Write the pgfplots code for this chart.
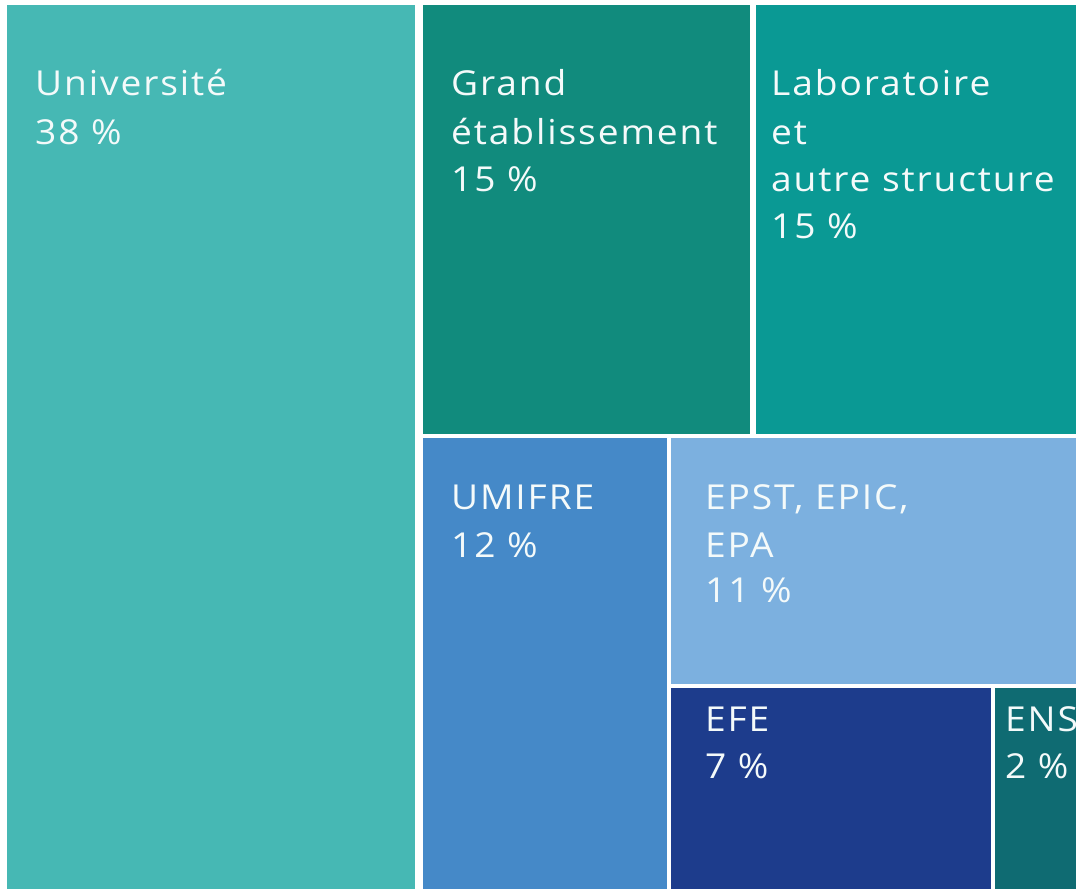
\documentclass[border=0pt]{standalone}
\usepackage{pgfplots}
\pgfplotsset{compat=1.18}
\usepackage{fontspec}
\setmainfont{Open Sans}[FakeStretch=1.08,LetterSpace=5.5]
\definecolor{cUniv}{HTML}{46B8B4}
\definecolor{cGrand}{HTML}{118B7D}
\definecolor{cLab}{HTML}{0A9994}
\definecolor{cUmi}{HTML}{4589C8}
\definecolor{cEpst}{HTML}{7CB0DF}
\definecolor{cEfe}{HTML}{1D3C8C}
\definecolor{cEns}{HTML}{0F6B72}
\definecolor{cTxt}{HTML}{F4FAFA}
\tikzset{lbl/.style={anchor=base west,text=cTxt,inner sep=0pt,font=\fontsize{34.5}{44}\selectfont}}
\begin{document}
\begin{tikzpicture}
\begin{axis}[width=1076bp,height=889bp,scale only axis,
  xmin=0,xmax=1076,ymin=0,ymax=889,y dir=reverse,hide axis]
% Université 38 %
\addplot[fill=cUniv,draw=none] coordinates {(7,5)(415,5)(415,889)(7,889)} -- cycle;
% Grand établissement 15 %
\addplot[fill=cGrand,draw=none] coordinates {(423,5)(750,5)(750,434)(423,434)} -- cycle;
% Laboratoire et autre structure 15 %
\addplot[fill=cLab,draw=none] coordinates {(756,5)(1076,5)(1076,434)(756,434)} -- cycle;
% UMIFRE 12 %
\addplot[fill=cUmi,draw=none] coordinates {(423,438)(667,438)(667,889)(423,889)} -- cycle;
% EPST, EPIC, EPA 11 %
\addplot[fill=cEpst,draw=none] coordinates {(671,438)(1076,438)(1076,684)(671,684)} -- cycle;
% EFE 7 %
\addplot[fill=cEfe,draw=none] coordinates {(671,688)(991,688)(991,889)(671,889)} -- cycle;
% ENS 2 %
\addplot[fill=cEns,draw=none] coordinates {(995,688)(1076,688)(1076,889)(995,889)} -- cycle;

\node[lbl] at (axis cs:35,96) {Université};
\node[lbl] at (axis cs:35,144) {38 \%};
\node[lbl] at (axis cs:451,96) {Grand};
\node[lbl] at (axis cs:451,144) {établissement};
\node[lbl] at (axis cs:451,191) {15 \%};
\node[lbl] at (axis cs:771,96) {Laboratoire};
\node[lbl] at (axis cs:771,144) {et};
\node[lbl] at (axis cs:771,191) {autre structure};
\node[lbl] at (axis cs:771,238) {15 \%};
\node[lbl] at (axis cs:451,509) {UMIFRE};
\node[lbl] at (axis cs:451,557) {12 \%};
\node[lbl] at (axis cs:705,509) {EPST, EPIC,};
\node[lbl] at (axis cs:705,557) {EPA};
\node[lbl] at (axis cs:705,602) {11 \%};
\node[lbl] at (axis cs:705,731) {EFE};
\node[lbl] at (axis cs:705,778) {7 \%};
\node[lbl] at (axis cs:1005,731) {ENS};
\node[lbl] at (axis cs:1005,778) {2 \%};
\end{axis}
\pgfresetboundingbox
\useasboundingbox (current axis.south west) rectangle (current axis.north east);
\end{tikzpicture}
\end{document}
